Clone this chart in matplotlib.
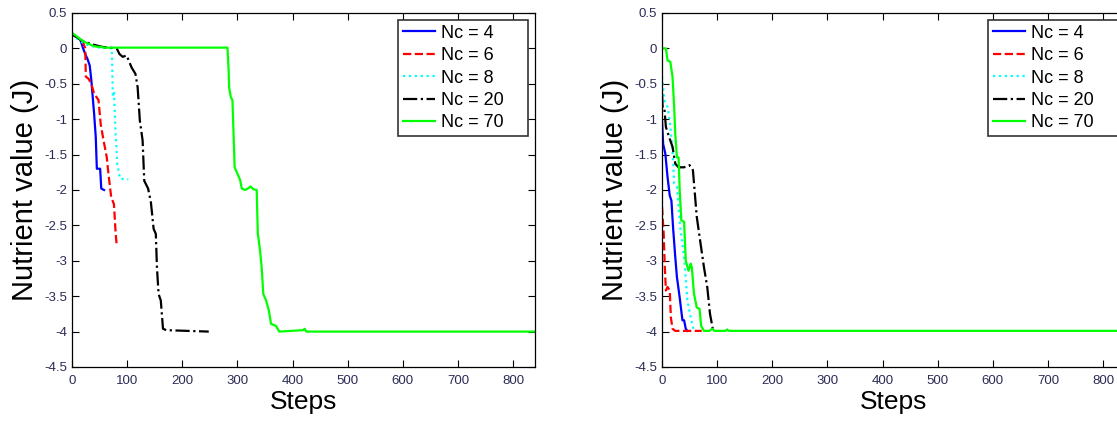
import numpy as np
import matplotlib
matplotlib.use('Agg')
import matplotlib.pyplot as plt

# ---- left panel data (steps, nutrient value) ----
l4_x = [0, 10, 15, 18, 20, 25, 28, 32, 35, 37, 40, 43, 45, 51, 53, 58]
l4_y = [0.2, 0.15, 0.12, 0.05, 0.0, -0.1, -0.15, -0.24, -0.45, -0.64, -0.92,
        -1.25, -1.70, -1.70, -1.98, -2.0]
l6_x = [0, 10, 20, 24, 25, 30, 35, 40, 48, 52, 56, 63, 66, 71, 76, 79, 81]
l6_y = [0.2, 0.15, 0.08, 0.0, -0.4, -0.43, -0.5, -0.64, -0.73, -1.07, -1.25,
        -1.54, -1.77, -2.1, -2.2, -2.6, -2.78]
l8_x = [0, 15, 30, 50, 72, 73, 74, 76, 79, 82, 87, 102]
l8_y = [0.2, 0.1, 0.04, 0.01, 0.0, -0.3, -0.69, -0.6, -1.2, -1.63, -1.84, -1.85]
l20_x = [0, 20, 40, 55, 81, 86, 92, 99, 108, 115, 119, 123, 128, 131, 138,
         143, 148, 152, 154, 157, 161, 165, 171, 248]
l20_y = [0.2, 0.1, 0.05, 0.02, 0.0, -0.08, -0.12, -0.1, -0.27, -0.36, -0.55,
         -1.02, -1.3, -1.87, -1.98, -2.17, -2.55, -2.62, -3.09, -3.47, -3.56,
         -3.96, -3.98, -4.0]
l70_x = [0, 20, 40, 60, 282, 284, 285, 288, 291, 293, 295, 300, 305, 308, 314,
         321, 324, 329, 335, 337, 341, 344, 347, 352, 357, 361, 370, 376, 419,
         422, 425, 840]
l70_y = [0.22, 0.1, 0.03, 0.01, 0.01, -0.3, -0.55, -0.69, -0.73, -1.2, -1.68,
         -1.77, -1.86, -1.98, -2.0, -1.97, -1.95, -1.99, -2.0, -2.61, -2.85,
         -3.09, -3.47, -3.56, -3.7, -3.89, -3.92, -4.0, -3.98, -3.96, -4.0, -4.0]

# ---- right panel data ----
r4_x = [0, 2, 6, 10, 14, 17, 20, 24, 27, 32, 37, 40, 43, 46]
r4_y = [-1.02, -1.35, -1.49, -1.82, -2.08, -2.15, -2.53, -2.95, -3.23, -3.52,
        -3.84, -3.84, -3.96, -3.99]
r6_x = [0, 3, 5, 7, 10, 14, 16, 19, 24, 72]
r6_y = [-2.24, -2.62, -3.09, -3.42, -3.37, -3.42, -3.8, -3.96, -3.99, -3.99]
r8_x = [0, 4, 10, 14, 19, 22, 27, 33, 40, 46, 53, 58]
r8_y = [-0.4, -0.73, -0.83, -1.02, -1.44, -1.91, -1.96, -2.53, -2.95, -3.56,
        -3.84, -3.99]
r20_x = [0, 1, 4, 7, 14, 19, 24, 30, 40, 50, 56, 63, 69, 76, 82, 87, 92, 95]
r20_y = [-0.64, -0.83, -0.83, -1.11, -1.28, -1.39, -1.63, -1.68, -1.68, -1.65,
         -1.72, -2.38, -2.71, -3.09, -3.37, -3.75, -3.96, -3.99]
r70_x = [0, 7, 10, 15, 19, 22, 24, 27, 30, 32, 35, 40, 43, 48, 52, 54, 58, 63,
         68, 71, 76, 86, 91, 95, 115, 118, 121, 840]
r70_y = [0.0, 0.0, -0.17, -0.19, -0.4, -0.83, -1.21, -1.54, -1.54, -2.0, -2.43,
         -2.45, -3.0, -3.14, -3.04, -3.09, -3.47, -3.66, -3.68, -3.92, -3.99,
         -3.99, -3.96, -3.99, -3.99, -3.97, -3.99, -3.99]

labels = ['Nc = 4', 'Nc = 6', 'Nc = 8', 'Nc = 20', 'Nc = 70']
styles = [('#0000ff', '-'), ('#ff0000', '--'), ('#00ffff', ':'),
          ('#000000', '-.'), ('#00ff00', '-')]

left_series = [(l4_x, l4_y), (l6_x, l6_y), (l8_x, l8_y), (l20_x, l20_y),
               (l70_x, l70_y)]
right_series = [(r4_x, r4_y), (r6_x, r6_y), (r8_x, r8_y), (r20_x, r20_y),
                (r70_x, r70_y)]

plt.rcParams['font.family'] = ['Liberation Sans', 'DejaVu Sans']
tick_color = '#2b2b55'

fig = plt.figure(figsize=(11.17, 4.23), dpi=100)
ax_l = fig.add_axes([0.0645, 0.1324, 0.4145, 0.837])
ax_r = fig.add_axes([0.5927, 0.1324, 0.4145, 0.837])

for ax, series in ((ax_l, left_series), (ax_r, right_series)):
    for (xs, ys), lab, (col, ls) in zip(series, labels, styles):
        ax.plot(xs, ys, color=col, linestyle=ls, linewidth=1.6,
                label=lab + '    ')

    ax.set_xlim(0, 840)
    ax.set_ylim(-4.5, 0.5)
    ax.set_xticks(np.arange(0, 801, 100))
    ax.set_yticks(np.arange(-4.5, 0.51, 0.5))
    ax.set_yticklabels(['-4.5', '-4', '-3.5', '-3', '-2.5', '-2', '-1.5',
                        '-1', '-0.5', '0', '0.5'])
    ax.tick_params(direction='in', top=True, right=True, length=5,
                   width=0.8, labelsize=9.5, labelcolor=tick_color)
    ax.tick_params(axis='x', pad=6)
    for sp in ax.spines.values():
        sp.set_linewidth(0.9)

    ax.set_xlabel('Steps', fontsize=19, labelpad=2)
    ax.set_ylabel('Nutrient value (J)', fontsize=21, labelpad=4)

    leg = ax.legend(loc='upper right', fontsize=13, fancybox=False,
                    framealpha=1, edgecolor='#333333', handlelength=1.8,
                    borderaxespad=0.4, labelspacing=0.3, handletextpad=0.3,
                    borderpad=0.25)
    leg.get_frame().set_linewidth(1.2)

fig.savefig('out.png', dpi=100)
